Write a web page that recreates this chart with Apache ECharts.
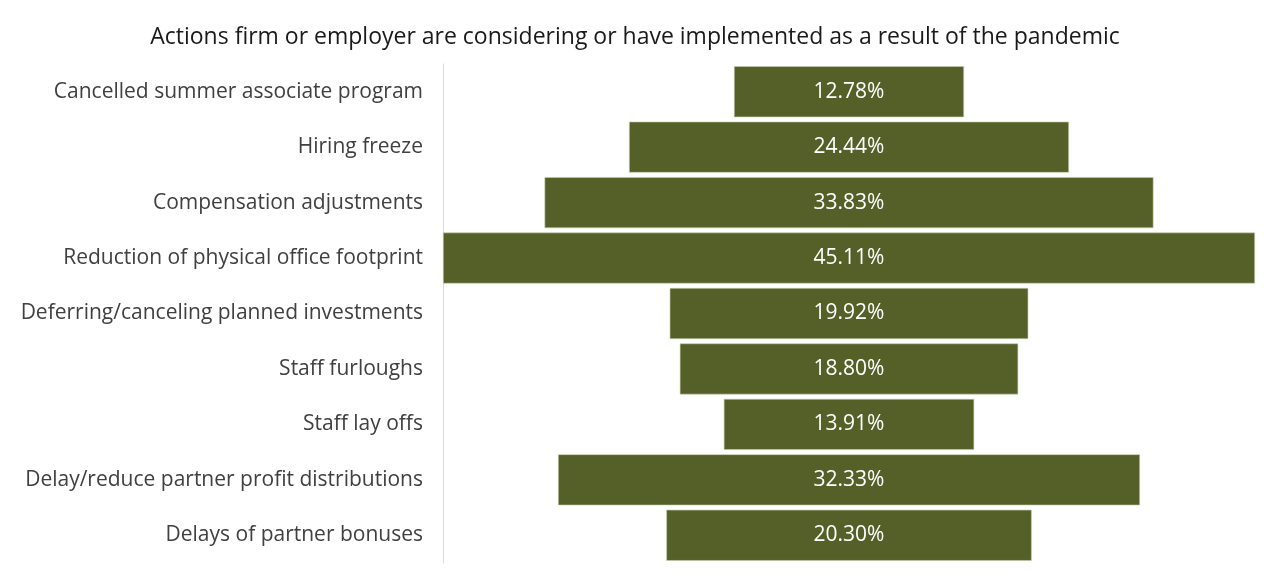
<!DOCTYPE html>
<html><head><meta charset="utf-8">
<script src="https://cdn.jsdelivr.net/npm/echarts@6/dist/echarts.min.js"></script>
<style>html,body{margin:0;padding:0;background:#fff}#c{width:1270px;height:577px}</style>
</head><body><div id="c"></div>
<script>
const categories = ["Cancelled summer associate program","Hiring freeze","Compensation adjustments","Reduction of physical office footprint","Deferring/canceling planned investments","Staff furloughs","Staff lay offs","Delay/reduce partner profit distributions","Delays of partner bonuses"];
const values = [12.78,24.44,33.83,45.11,19.92,18.80,13.91,32.33,20.30];
const maxVal = Math.max(...values);
const offsets = values.map(v => (maxVal - v) / 2);
const chart = echarts.init(document.getElementById('c'));
chart.setOption({
  animation:false,
  title:{text:"Actions firm or employer are considering or have implemented as a result of the pandemic",left:'center',top:21,textStyle:{fontFamily:'Open Sans',fontWeight:'normal',fontSize:23,color:'#1a1a1a'}},
  grid:{left:443,right:15,top:64,bottom:14,containLabel:false},
  xAxis:{type:'value',min:0,max:maxVal,show:false},
  yAxis:{type:'category',data:categories,inverse:true,
    axisLine:{show:true,lineStyle:{color:'#d9d9d9',width:1}},axisTick:{show:false},
    axisLabel:{fontFamily:'Open Sans',fontSize:21,color:'#404040',margin:20}},
  series:[
    {type:'bar',stack:'s',data:offsets,itemStyle:{color:'transparent'},silent:true,barCategoryGap:'8%'},
    {type:'bar',stack:'s',data:values,barCategoryGap:'8%',
      itemStyle:{color:'#556029',borderColor:'#c9d0b0',borderWidth:0.6},
      label:{show:true,position:'inside',color:'#fff',fontFamily:'Open Sans',fontSize:21,formatter:p=>p.value.toFixed(2)+'%'}}
  ]
});
</script></body></html>
